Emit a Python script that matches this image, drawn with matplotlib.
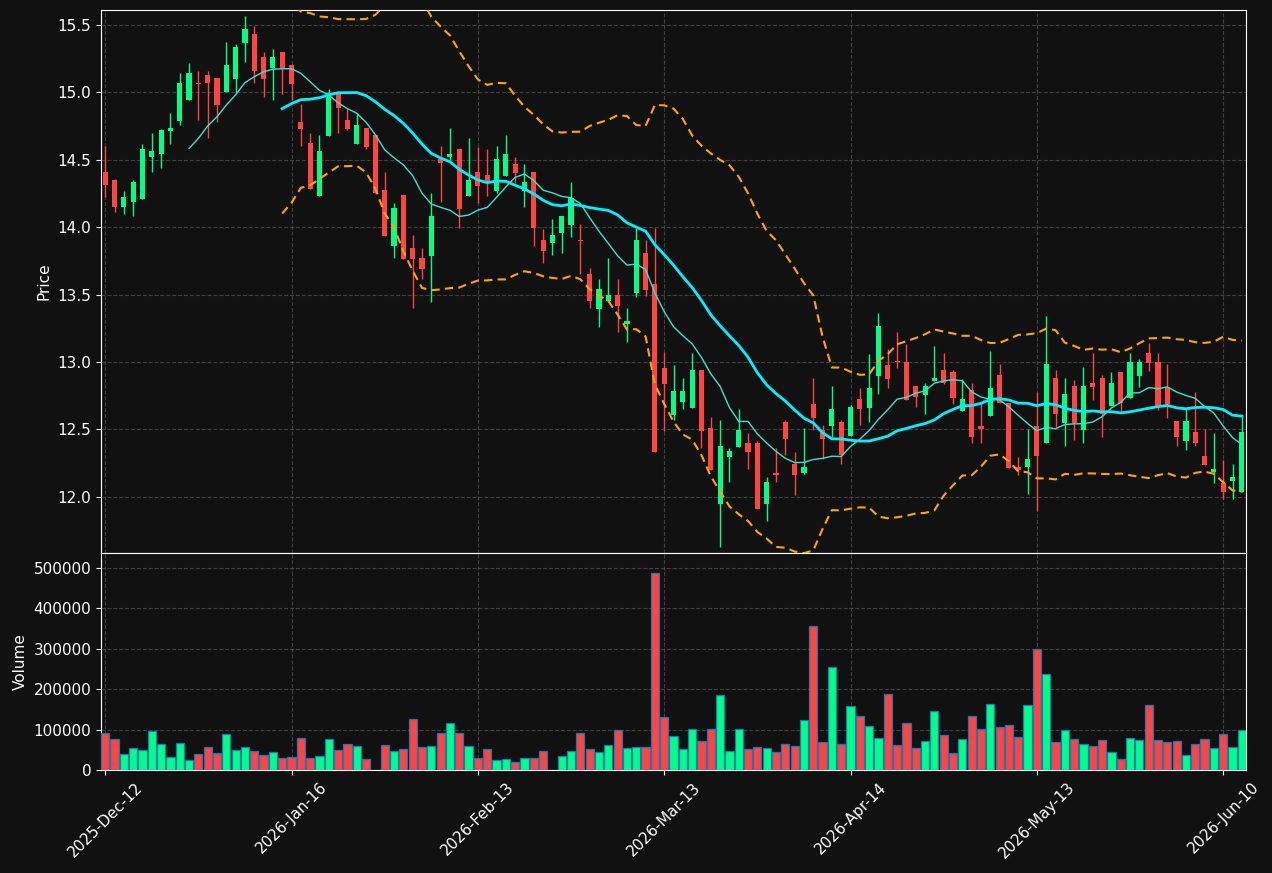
import numpy as np
import pandas as pd
import matplotlib
matplotlib.use("Agg")
import matplotlib.pyplot as plt

# OHLC + volume, one entry per trading day (123 days)
opens = [14.41, 14.35, 14.15, 14.19, 14.21, 14.52, 14.54, 14.716, 14.79, 14.946,
         15.07, 15.13, 15.107, 15.005, 15.10, 15.369, 15.433, 15.262, 15.178, 15.30,
         15.203, 14.78, 14.625, 14.234, 14.679, 14.993, 14.795, 14.62, 14.736, 14.684,
         14.276, 13.863, 14.239, 13.846, 13.771, 13.789, 14.506, 14.523, 14.58, 14.234,
         14.41, 14.387, 14.271, 14.382, 14.469, 14.271, 14.41, 13.905, 13.885, 13.959,
         14.016, 13.905, 13.653, 13.393, 13.455, 13.497, 13.284, 13.514, 13.808, 13.578,
         12.955, 12.609, 12.706, 12.661, 12.94, 12.51, 11.949, 12.298, 12.372, 12.399,
         12.399, 11.949, 12.169, 12.555, 12.243, 12.179, 12.686, 12.496, 12.528, 12.555,
         12.454, 12.726, 12.661, 12.899, 12.975, 13.0, 13.0, 12.82, 12.758, 12.859,
         12.938, 12.926, 12.639, 12.792, 12.525, 12.602, 12.904, 12.698, 12.224, 12.219,
         12.525, 12.402, 12.881, 12.545, 12.822, 12.496, 12.844, 12.881, 12.674, 12.926,
         12.735, 12.899, 13.067, 12.999, 12.81, 12.562, 12.416, 12.478, 12.303, 12.182,
         12.102, 12.12, 12.038]
highs = [14.60, 14.36, 14.27, 14.35, 14.62, 14.70, 14.73, 14.85, 15.14, 15.22,
         15.16, 15.16, 15.107, 15.37, 15.356, 15.567, 15.49, 15.297, 15.322, 15.30,
         15.21, 14.91, 14.696, 14.684, 15.023, 15.01, 14.882, 14.845, 14.736, 14.684,
         14.41, 14.177, 14.239, 13.94, 13.843, 14.251, 14.602, 14.733, 14.58, 14.659,
         14.597, 14.578, 14.602, 14.684, 14.523, 14.466, 14.41, 13.984, 14.058, 14.083,
         14.333, 14.021, 13.695, 13.613, 13.769, 13.613, 13.398, 13.991, 13.902, 13.996,
         13.072, 12.975, 12.879, 13.069, 12.94, 12.592, 12.567, 12.36, 12.649, 12.471,
         12.41, 12.144, 12.359, 12.57, 12.335, 12.508, 12.879, 12.53, 12.822, 12.57,
         12.681, 12.805, 13.057, 13.361, 13.094, 13.225, 13.131, 12.82, 12.842, 13.121,
         13.064, 12.938, 12.876, 12.842, 12.706, 13.082, 12.985, 12.698, 12.298, 12.50,
         12.78, 13.341, 12.938, 12.879, 12.866, 12.96, 13.064, 12.904, 12.926, 12.926,
         13.069, 13.02, 13.138, 13.064, 12.983, 12.562, 12.651, 12.78, 12.50, 12.476,
         12.273, 12.241, 12.607]
lows = [14.22, 14.115, 14.095, 14.08, 14.21, 14.41, 14.44, 14.62, 14.755, 14.946,
        14.795, 14.66, 14.778, 15.005, 14.993, 15.223, 15.067, 14.968, 14.946, 14.985,
        14.946, 14.60, 14.28, 14.234, 14.679, 14.696, 14.721, 14.62, 14.578, 14.25,
        13.937, 13.769, 13.764, 13.398, 13.613, 13.443, 14.189, 14.50, 13.996, 14.234,
        14.177, 14.234, 14.251, 14.382, 14.325, 14.152, 13.863, 13.732, 13.791, 13.806,
        13.925, 13.65, 13.398, 13.262, 13.455, 13.225, 13.151, 13.485, 13.492, 12.33,
        12.49, 12.57, 12.649, 12.661, 12.359, 12.199, 11.625, 12.107, 12.372, 12.204,
        11.912, 11.82, 12.107, 12.308, 12.011, 12.17, 12.496, 12.278, 12.446, 12.241,
        12.45, 12.533, 12.552, 12.76, 12.805, 12.953, 12.72, 12.664, 12.612, 12.859,
        12.84, 12.686, 12.639, 12.402, 12.402, 12.60, 12.698, 12.216, 12.162, 12.021,
        11.897, 12.40, 12.52, 12.379, 12.421, 12.402, 12.718, 12.441, 12.674, 12.619,
        12.735, 12.817, 12.936, 12.644, 12.582, 12.379, 12.347, 12.379, 12.238, 12.10,
        11.981, 11.981, 12.038]
closes = [14.31, 14.15, 14.22, 14.335, 14.58, 14.565, 14.72, 14.735, 15.07, 15.144,
          15.06, 15.07, 14.909, 15.203, 15.337, 15.47, 15.161, 15.10, 15.262, 15.178,
          15.06, 14.73, 14.286, 14.565, 14.993, 14.887, 14.728, 14.758, 14.597, 14.251,
          13.937, 14.142, 13.764, 13.764, 13.692, 14.083, 14.479, 14.543, 14.137, 14.35,
          14.308, 14.338, 14.506, 14.543, 14.404, 14.333, 13.996, 13.826, 13.94, 14.083,
          14.219, 13.90, 13.455, 13.541, 13.497, 13.418, 13.304, 13.905, 13.536, 12.335,
          12.839, 12.785, 12.785, 12.94, 12.49, 12.199, 12.377, 12.34, 12.496, 12.335,
          11.912, 12.11, 12.165, 12.431, 12.164, 12.221, 12.587, 12.431, 12.651, 12.31,
          12.664, 12.649, 12.805, 13.267, 12.874, 12.998, 12.721, 12.743, 12.82, 12.879,
          12.842, 12.735, 12.723, 12.441, 12.50, 12.807, 12.698, 12.216, 12.199, 12.278,
          12.303, 12.985, 12.614, 12.76, 12.545, 12.822, 12.817, 12.614, 12.844, 12.698,
          13.0, 13.0, 12.995, 12.674, 12.686, 12.441, 12.562, 12.402, 12.238, 12.204,
          12.038, 12.147, 12.478]
volumes = [90900, 76000, 38800, 53700, 48750, 95850, 63600, 31400, 66100, 24000,
           38800, 56200, 41300, 88400, 48750, 56200, 46300, 36400, 43800, 28900,
           31400, 78500, 28900, 33900, 76000, 48750, 63600, 58700, 26400, 0,
           61100, 46300, 51200, 125600, 56200, 58700, 90900, 115700, 90900, 58700,
           28900, 51200, 24000, 26400, 19000, 28900, 28900, 46300, 0, 33900,
           46300, 90900, 51200, 43800, 61100, 98300, 53700, 56200, 56200, 487500,
           130500, 83450, 51200, 100800, 71100, 100800, 185100, 46300, 100800, 51200,
           56200, 53700, 43800, 63600, 58700, 123100, 356100, 68600, 254500, 63600,
           157800, 133000, 108200, 78500, 187600, 61100, 115700, 53700, 71100, 145400,
           85900, 41300, 76000, 133000, 100800, 162800, 105800, 110700, 81000, 160300,
           299100, 237100, 68600, 98300, 76000, 63600, 58700, 73500, 43800, 26400,
           78500, 73500, 160300, 73500, 68600, 71100, 36400, 63600, 76000, 53700,
           88400, 56200, 98300]

# a date label every 20 sessions
tick_labels = ["2025-Dec-12", "2026-Jan-16", "2026-Feb-13", "2026-Mar-13",
               "2026-Apr-14", "2026-May-13", "2026-Jun-10"]

BG = "#111111"
UP = "#00ff88"
DOWN = "#ff4444"

o = np.array(opens)
h = np.array(highs)
l = np.array(lows)
c = np.array(closes)
v = np.array(volumes)
x = np.arange(len(c))
up = c >= o
cols = np.where(up, UP, DOWN)
tick_pos = list(range(0, 20 * len(tick_labels), 20))

cs = pd.Series(c)
ma10 = cs.rolling(10).mean()
ma20 = cs.rolling(20).mean()
sd20 = cs.rolling(20).std(ddof=0)
upper = ma20 + 2 * sd20
lower = ma20 - 2 * sd20

fig = plt.figure(figsize=(12.72, 8.73), dpi=100, facecolor=BG)
ax = fig.add_axes([0.0794, 0.3666, 0.9002, 0.622], facecolor=BG)
axv = fig.add_axes([0.0794, 0.118, 0.9002, 0.2486], facecolor=BG, sharex=ax)

# candles
ax.vlines(x, l, h, colors=cols, linewidth=1.0, zorder=2)
body = np.maximum(np.abs(c - o), 0.008)
ax.bar(x, body, bottom=np.minimum(o, c), width=0.55, color=cols, linewidth=0, zorder=3)

# moving averages + bands
ax.plot(x, ma10, color="#40e0d0", linewidth=1.0, zorder=4)
ax.plot(x, ma20, color="#00f0ff", linewidth=2.0, zorder=4)
ax.plot(x, upper, color="orange", linewidth=1.5, linestyle=(0, (4, 2.5)), zorder=4)
ax.plot(x, lower, color="orange", linewidth=1.5, linestyle=(0, (4, 2.5)), zorder=4)

# volume
axv.bar(x, v, width=0.88, color=cols, edgecolor="#1f77b4", linewidth=0.9, zorder=3)

ax.set_xlim(-0.45, len(c) - 1 + 0.45)
ax.set_ylim(11.583, 15.611)
axv.set_ylim(0, v.max() * 1.1)

for a in (ax, axv):
    a.grid(True, color="#555555", linestyle="--", linewidth=0.8, alpha=0.7)
    a.set_axisbelow(True)
    for s in a.spines.values():
        s.set_color("white")
    a.tick_params(colors="white", labelsize=11)

ax.set_xticks(tick_pos)
ax.tick_params(axis="x", bottom=False, labelbottom=False)
axv.set_xticks(tick_pos)
axv.set_xticklabels(tick_labels, rotation=45, ha="center")
axv.ticklabel_format(axis="y", style="plain")

ax.set_ylabel("Price", color="white", fontsize=11)
axv.set_ylabel("Volume", color="white", fontsize=11)

fig.savefig("out.png", dpi=100, facecolor=BG)
